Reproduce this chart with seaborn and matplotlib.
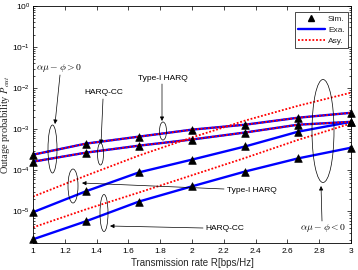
import numpy as np
import pandas as pd
import matplotlib
matplotlib.use("Agg")
import matplotlib.pyplot as plt
import seaborn as sns
from matplotlib.patches import Ellipse
from matplotlib.lines import Line2D

# transmission rate R (marker positions)
rate = [1.0, 4 / 3, 5 / 3, 2.0, 7 / 3, 8 / 3, 3.0]

# log10 of outage probability
# alpha*mu - phi > 0  (exact and asymptotic coincide)
pos_type1 = [-3.62, -3.35, -3.18, -3.01, -2.89, -2.72, -2.60]
pos_cc = [-3.79, -3.57, -3.40, -3.25, -3.08, -2.89, -2.82]
# alpha*mu - phi < 0
neg_type1_exa = [-5.02, -4.51, -4.05, -3.74, -3.42, -3.06, -2.82]
neg_type1_asy = [-4.64, -4.13, -3.64, -3.20, -2.79, -2.43, -2.11]
neg_cc_exa = [-5.68, -5.24, -4.76, -4.39, -4.03, -3.71, -3.45]
neg_cc_asy = [-5.39, -4.95, -4.54, -4.12, -3.70, -3.26, -2.86]

xticks = [1, 1.2, 1.4, 1.6, 1.8, 2, 2.2, 2.4, 2.6, 2.8, 3]

sns.set_style("ticks")
plt.rcParams['font.family'] = ['Liberation Sans', 'DejaVu Sans']
plt.rcParams['mathtext.fontset'] = 'stix'

W, H = 358, 270
fig = plt.figure(figsize=(W / 100, H / 100), dpi=100)
ax = fig.add_axes([33 / W, 1 - 243 / H, 318 / W, 237 / H])


def fp(x, y):
    return (x / W, 1 - y / H)


exa_curves = [pos_type1, pos_cc, neg_type1_exa, neg_cc_exa]
asy_curves = [pos_type1, pos_cc, neg_type1_asy, neg_cc_asy]

for c in exa_curves:
    sns.lineplot(x=rate, y=10 ** np.array(c), ax=ax, color='#0000ff', lw=1.7,
                 estimator=None, sort=False)
for c in asy_curves:
    sns.lineplot(x=rate, y=10 ** np.array(c), ax=ax, color='#ff0000', lw=1.3,
                 linestyle=(0, (1, 1)), estimator=None, sort=False)

sim = pd.DataFrame({
    'R': rate * 4,
    'P': 10 ** np.concatenate([pos_type1, pos_cc, neg_type1_exa, neg_cc_exa]),
})
sns.scatterplot(data=sim, x='R', y='P', ax=ax, marker='^', color='k', s=30,
                edgecolor='k', linewidth=0.5, zorder=5, clip_on=False)

ax.set_yscale('log')
ax.set_xlim(1, 3)
ax.set_ylim(1.7e-6, 1)
ax.set_xticks(xticks)
ax.set_xticklabels([f"{t:g}" for t in xticks])
ax.tick_params(which='both', direction='in', top=True, right=True,
               labelsize=6, width=0.5, colors='k')
ax.tick_params(axis='y', pad=2)
ax.tick_params(which='major', length=3)
ax.tick_params(which='minor', length=1.5)
for s in ax.spines.values():
    s.set_linewidth(0.6)
    s.set_color('k')

ax.set_xlabel('Transmission rate R[bps/Hz]', fontsize=7, labelpad=2)
ax.set_ylabel('Outage probability $P_{out}$', fontsize=7.5,
              family=['Liberation Serif', 'DejaVu Serif'])
ax.yaxis.set_label_coords(-0.067, 0.5)

handles = [
    Line2D([], [], marker='^', color='k', linestyle='none', markersize=5),
    Line2D([], [], color='#0000ff', lw=1.7),
    Line2D([], [], color='#ff0000', lw=1.3, linestyle=(0, (1, 1))),
]
leg = ax.legend(handles, ['Sim.', 'Exa.', 'Asy.'], loc='upper right',
                bbox_to_anchor=fp(348, 12), bbox_transform=fig.transFigure,
                borderaxespad=0, fontsize=6, fancybox=False, framealpha=1,
                edgecolor='k', handlelength=3.2, handletextpad=0.4,
                labelspacing=0.35, borderpad=0.4)
leg.get_frame().set_linewidth(0.5)

arrow = dict(arrowstyle='-|>', color='k', lw=0.5, mutation_scale=6,
             shrinkA=0, shrinkB=0)


def note(text, tpos, tail, tip, ell, ha='center', math=False):
    kw = dict(fontsize=6, color='k', ha=ha, va='center')
    if math:
        kw.update(fontsize=7, math_fontfamily='cm')
    fig.text(*fp(*tpos), text, **kw)
    ax.annotate('', xy=fp(*tip), xytext=fp(*tail), xycoords='figure fraction',
                textcoords='figure fraction', arrowprops=arrow)
    cx, cy, w, h = ell
    fig.add_artist(Ellipse(fp(cx, cy), w / W, h / H, transform=fig.transFigure,
                           fill=False, lw=0.5, ec='k', zorder=6))


note(r'$\alpha\mu-\phi>0$', (59, 68), (60, 75), (55, 124), (52.5, 149, 9, 48), math=True)
note('HARQ-CC', (104, 93), (103, 99), (101, 144), (100.5, 154, 6, 22))
note('Type-I HARQ', (163, 78), (162, 84), (162, 121), (163, 131, 7, 18))
note('Type-I HARQ', (227, 191), (224, 189), (82, 183), (73, 186, 10, 34), ha='left')
note('HARQ-CC', (205, 229), (203, 228), (110, 226), (104, 213, 8, 37), ha='left')
note(r'$\alpha\mu-\phi<0$', (323, 228), (322, 221), (321, 186), (323, 131, 22, 103), math=True)

fig.savefig('out.png', dpi=100)
